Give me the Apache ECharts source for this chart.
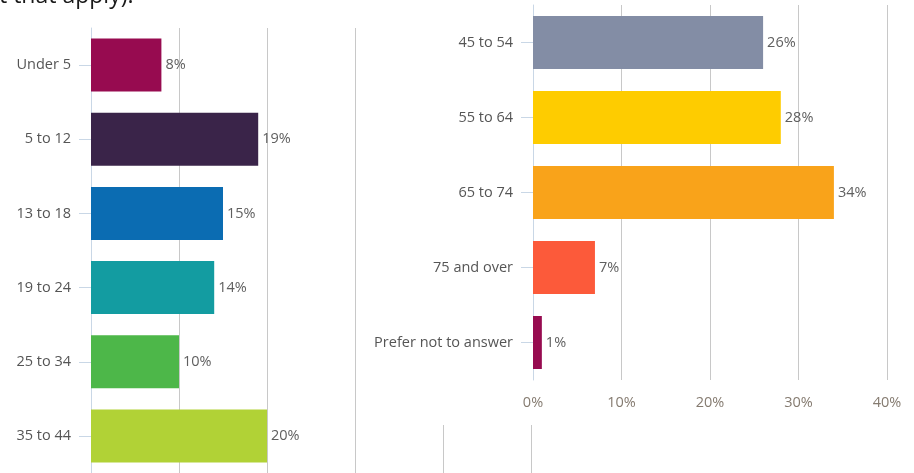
<!DOCTYPE html>
<html>
<head>
<meta charset="utf-8">
<script src="https://cdn.jsdelivr.net/npm/echarts@6/dist/echarts.min.js"></script>
<style>
  html, body { margin: 0; padding: 0; background: #fff; }
  #chart { width: 914px; height: 473px; }
</style>
</head>
<body>
<div id="chart"></div>
<script>
// Age groups, first column
const leftCategories = ['Under 5', '5 to 12', '13 to 18', '19 to 24', '25 to 34', '35 to 44'];
const leftValues = [8, 19, 15, 14, 10, 20];
const leftColors = ['#970b50', '#3a2449', '#0b6cb2', '#139ca1', '#4db749', '#b1d236'];

// Age groups, second column
const rightCategories = ['45 to 54', '55 to 64', '65 to 74', '75 and over', 'Prefer not to answer'];
const rightValues = [26, 28, 34, 7, 1];
const rightColors = ['#838da5', '#fecc00', '#f9a31a', '#fc5a3a', '#970b50'];

const titleText = 't that apply).';

const FONT = '"Open Sans", sans-serif';
const labelColor = '#555555';
const axisBlue = '#c9d7e6';
const gridGray = '#c8c8c8';

function barData(values, colors) {
  return values.map((v, i) => ({ value: v, itemStyle: { color: colors[i] } }));
}

const chart = echarts.init(document.getElementById('chart'), null, { renderer: 'canvas' });

const catLabel = { color: labelColor, fontSize: 14.5, fontFamily: FONT, margin: 20 };
const valLabel = { show: true, position: 'right', distance: 4, formatter: '{c}%', color: '#5f5f5f', fontSize: 14.5, fontFamily: FONT };

chart.setOption({
  backgroundColor: '#fff',
  animation: false,
  graphic: [
    {
      type: 'text', left: -1, top: -15, zlevel: 3,
      style: { text: titleText, font: '500 23px ' + FONT, fill: '#1a1a1a' }
    },
    {
      // panel backdrop for the second column
      type: 'rect', zlevel: 1,
      shape: { x: 359, y: 0, width: 560, height: 425 },
      style: { fill: '#fff' }
    }
  ],
  grid: [
    { left: 91, top: 28, width: 440, height: 450 },
    { left: 533, top: 5, width: 354, height: 375 }
  ],
  xAxis: [
    {
      gridIndex: 0, type: 'value', min: 0, max: 50, interval: 10,
      axisLine: { show: false }, axisTick: { show: false }, axisLabel: { show: false },
      splitLine: { show: true, lineStyle: { color: gridGray, width: 1 } }
    },
    {
      gridIndex: 1, type: 'value', min: 0, max: 40, interval: 10, zlevel: 2,
      axisLine: { show: false }, axisTick: { show: false },
      axisLabel: { formatter: '{value}%', color: '#857b70', fontSize: 14.5, fontFamily: FONT, margin: 15 },
      splitLine: { show: true, lineStyle: { color: gridGray, width: 1 } }
    }
  ],
  yAxis: [
    {
      gridIndex: 0, type: 'category', data: leftCategories, inverse: true,
      axisLine: { show: true, lineStyle: { color: axisBlue } },
      axisTick: { show: true, alignWithLabel: true, length: 12, lineStyle: { color: axisBlue } },
      axisLabel: catLabel
    },
    {
      gridIndex: 1, type: 'category', data: rightCategories, inverse: true, zlevel: 2,
      axisLine: { show: true, lineStyle: { color: axisBlue } },
      axisTick: { show: true, alignWithLabel: true, length: 12, lineStyle: { color: axisBlue } },
      axisLabel: catLabel
    }
  ],
  series: [
    {
      type: 'bar', xAxisIndex: 0, yAxisIndex: 0, barWidth: 53,
      data: barData(leftValues, leftColors),
      label: valLabel
    },
    {
      type: 'bar', xAxisIndex: 1, yAxisIndex: 1, barWidth: 53, zlevel: 2,
      data: barData(rightValues, rightColors),
      label: valLabel
    }
  ]
});
</script>
</body>
</html>
